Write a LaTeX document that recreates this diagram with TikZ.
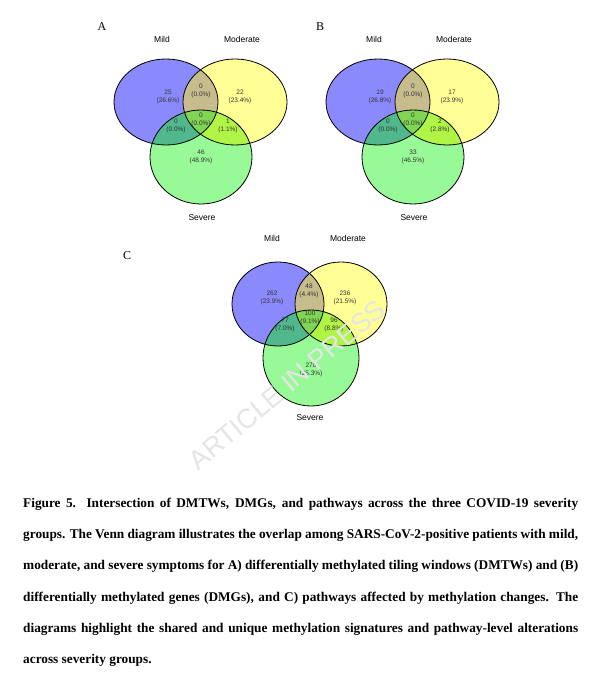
\documentclass[tikz,border=0pt]{standalone}
\usepackage{fontspec}
\setmainfont{Liberation Serif}
\setsansfont{Liberation Sans}
\begin{document}
\begin{tikzpicture}[
  x=1pt, y=-1pt,
  num/.style={font=\sffamily\fontsize{6.5}{7.5}\selectfont, align=center, text=black!80},
  setlab/.style={font=\sffamily\fontsize{8.5}{10}\selectfont},
  panel/.style={font=\fontsize{12}{14}\selectfont},
  outl/.style={draw=black, line width=0.8pt},
]
\definecolor{mildc}{RGB}{138,138,252}
\definecolor{modc}{RGB}{255,255,150}
\definecolor{sevc}{RGB}{152,250,150}
\definecolor{mdc}{RGB}{198,188,140}
\definecolor{msc}{RGB}{80,184,140}
\definecolor{dsc}{RGB}{176,244,70}
\definecolor{allc}{RGB}{128,214,84}

\useasboundingbox (0,0) rectangle (610,676);
\fill [white] (0,0) rectangle (610,676);

% generic three-set diagram, ellipses given in \def's
\newcommand{\vennfill}{%
  \fill [mildc] \Mild; \fill [modc] \Mod; \fill [sevc] \Sev;
  \begin{scope} \clip \Mild; \fill [mdc] \Mod; \end{scope}
  \begin{scope} \clip \Mild; \fill [msc] \Sev; \end{scope}
  \begin{scope} \clip \Mod; \fill [dsc] \Sev; \end{scope}
  \begin{scope} \clip \Mild; \clip \Mod; \fill [allc] \Sev; \end{scope}
  \draw [outl] \Mild; \draw [outl] \Mod; \draw [outl] \Sev;
}

% panel A
\def\Mild{(166,102) ellipse [x radius=52, y radius=43]}
\def\Mod{(235,102) ellipse [x radius=52, y radius=43]}
\def\Sev{(201,157) ellipse [x radius=51, y radius=47]}
\vennfill
\node [panel] (pA) at (102,27) {A};
\node [setlab] (mildA) at (162,39) {Mild};
\node [setlab] (modA) at (242,39) {Moderate};
\node [setlab] (sevA) at (202,218) {Severe};
\node [num] (a1) at (168,97) {25\\(26.6\%)};
\node [num] (a2) at (201,91) {0\\(0.0\%)};
\node [num] (a3) at (240,97) {22\\(23.4\%)};
\node [num] (a4) at (176,126) {0\\(0.0\%)};
\node [num] (a5) at (201,120) {0\\(0.0\%)};
\node [num] (a6) at (228,126) {1\\(1.1\%)};
\node [num] (a7) at (201,157) {46\\(48.9\%)};

% panel B
\def\Mild{(378,102) ellipse [x radius=52, y radius=43]}
\def\Mod{(447,102) ellipse [x radius=52, y radius=43]}
\def\Sev{(413,157) ellipse [x radius=51, y radius=47]}
\vennfill
\node [panel] (pB) at (320,27) {B};
\node [setlab] (mildB) at (374,39) {Mild};
\node [setlab] (modB) at (454,39) {Moderate};
\node [setlab] (sevB) at (414,218) {Severe};
\node [num] (b1) at (380,97) {19\\(26.8\%)};
\node [num] (b2) at (413,91) {0\\(0.0\%)};
\node [num] (b3) at (452,97) {17\\(23.9\%)};
\node [num] (b4) at (388,126) {0\\(0.0\%)};
\node [num] (b5) at (413,120) {0\\(0.0\%)};
\node [num] (b6) at (440,126) {2\\(2.8\%)};
\node [num] (b7) at (413,157) {33\\(46.5\%)};

% panel C
\def\Mild{(278,304) ellipse [x radius=46, y radius=42]}
\def\Mod{(341,304) ellipse [x radius=46, y radius=42]}
\def\Sev{(311,358) ellipse [x radius=48, y radius=48]}
\vennfill
\node [panel] (pC) at (127,256) {C};
\node [setlab] (mildC) at (272,238) {Mild};
\node [setlab] (modC) at (348,238) {Moderate};
\node [setlab] (sevC) at (310,418) {Severe};
\node [num] (c1) at (272,298) {262\\(23.9\%)};
\node [num] (c2) at (309,291) {48\\(4.4\%)};
\node [num] (c3) at (345,298) {236\\(21.5\%)};
\node [num] (c4) at (285,325) {77\\(7.0\%)};
\node [num] (c5) at (310,318) {100\\(9.1\%)};
\node [num] (c6) at (334,325) {96\\(8.8\%)};
\node [num] (c7) at (311,370) {278\\(25.3\%)};

\node [font=\sffamily\fontsize{27}{27}\selectfont, text=black!10, rotate=40] (wm) at (287,385) {ARTICLE IN PRESS};

\node [anchor=north west, inner sep=0, text width=555, align=justify,
  font=\bfseries\fontsize{13.3}{31.2}\selectfont] (cap) at (23,498)
  {Figure 5. Intersection of DMTWs, DMGs, and pathways across the three COVID-19 severity groups. The Venn diagram illustrates the overlap among SARS-CoV-2-positive patients with mild, moderate, and severe symptoms for A) differentially methylated tiling windows (DMTWs) and (B) differentially methylated genes (DMGs), and C) pathways affected by methylation changes. The diagrams highlight the shared and unique methylation signatures and pathway-level alterations across severity groups.};
\end{tikzpicture}
\end{document}
